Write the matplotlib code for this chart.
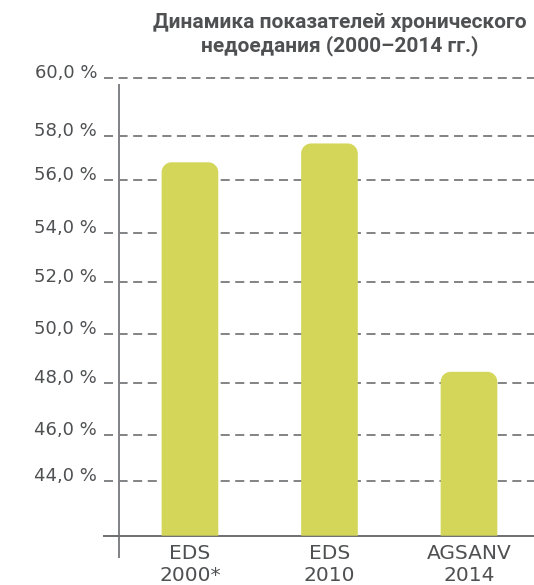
import numpy as np
import matplotlib
matplotlib.use("Agg")
import matplotlib.pyplot as plt
from matplotlib.patches import PathPatch
from matplotlib.path import Path
from matplotlib.transforms import IdentityTransform

# ---- data ----
categories = ["EDS\n2000*", "EDS\n2010", "AGSANV\n2014"]
values = [56.8, 57.65, 48.45]
ytick_values = [44, 46, 48, 50, 52, 54, 56, 58, 60]
ytick_labels = ["44,0 %", "46,0 %", "48,0 %", "50,0 %", "52,0 %",
                "54,0 %", "56,0 %", "58,0 %", "60,0 %"]
title = "Динамика показателей хронического\nнедоедания (2000–2014 гг.)"
baseline = 42

# ---- style: the infographic's axis is not evenly spaced; map values to rows ----
scale_values = [40, 42, 44, 46, 48, 50, 52, 54, 56, 58, 60, 62]
scale_rows = np.array([557, 535.7, 480.7, 435, 382.7, 334.3, 281.7, 232.7,
                       180, 135.7, 78, 40])

def fwd(v):
    return -np.interp(v, scale_values, scale_rows)

def inv(y):
    return np.interp(y, -scale_rows, scale_values)

bar_color = "#d4d65a"
text_color = "#4f5052"
grid_color = "#6d6e70"
axis_color = "#808184"

plt.rcParams["font.family"] = ["DejaVu Sans"]
plt.rcParams["lines.scale_dashes"] = False

W, H = 534, 585
fig = plt.figure(figsize=(W / 100, H / 100), dpi=100)
top_row = 59
ax = fig.add_axes([104 / W, 1 - 535.7 / H, 430 / W, (535.7 - top_row) / H])
ax.set_yscale("function", functions=(fwd, inv))
ax.set_ylim(baseline, float(inv(-top_row)))
x = np.arange(len(categories))
ax.set_xlim(-0.616, 2.466)

bars = ax.bar(x, np.array(values) - baseline, bottom=baseline, width=0.406,
              color=bar_color, zorder=3)

ax.set_yticks(ytick_values, ytick_labels)
ax.yaxis.grid(True, color=grid_color, linewidth=1.2, linestyle=(0, (6.5, 4)), zorder=1)
ax.set_axisbelow(True)
ax.tick_params(axis="y", length=0, pad=5, labelsize=13, labelcolor=text_color)
for lbl in ax.get_yticklabels():
    lbl.set_va("baseline")
ax.set_xticks(x, categories)
ax.tick_params(axis="x", length=0, pad=6, labelsize=14.5, labelcolor=text_color)
for lbl in ax.get_xticklabels():
    lbl.set_linespacing(1.2)

for s in ["top", "right", "left"]:
    ax.spines[s].set_visible(False)
ax.spines["bottom"].set_color(grid_color)
ax.spines["bottom"].set_linewidth(1.4)

# vertical axis line (extends a little below the baseline)
ax.plot([-0.507, -0.507], [40, 59.76], color=axis_color, lw=1.4, clip_on=False, zorder=2)

# rounded-top bars drawn in display space from the data transform
r = 10
k = 0.5523
for b in bars:
    (x0, y0) = ax.transData.transform((b.get_x(), b.get_y()))
    (x1, y1) = ax.transData.transform((b.get_x() + b.get_width(), b.get_y() + b.get_height()))
    b.set_visible(False)
    verts = [
        (x0, y0), (x0, y1 - r),
        (x0, y1 - r + k * r), (x0 + r - k * r, y1), (x0 + r, y1),
        (x1 - r, y1),
        (x1 - r + k * r, y1), (x1, y1 - r + k * r), (x1, y1 - r),
        (x1, y0), (x0, y0),
    ]
    codes = [Path.MOVETO, Path.LINETO,
             Path.CURVE4, Path.CURVE4, Path.CURVE4,
             Path.LINETO,
             Path.CURVE4, Path.CURVE4, Path.CURVE4,
             Path.LINETO, Path.CLOSEPOLY]
    ax.add_artist(PathPatch(Path(verts, codes), transform=IdentityTransform(),
                            facecolor=bar_color, edgecolor="none", zorder=3))

fig.text(340 / W, 1 - 13 / H, title, ha="center", va="top", fontsize=15,
         fontweight="bold", color=text_color, linespacing=1.2,
         family=["Roboto", "DejaVu Sans"])

fig.savefig("out.png", dpi=100)
